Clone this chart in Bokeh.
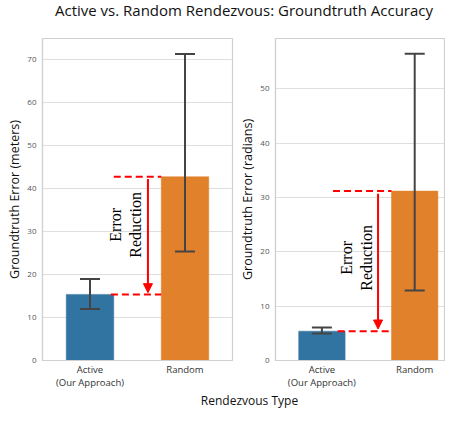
import numpy as np
from bokeh.plotting import figure
from bokeh.layouts import column, row
from bokeh.models import Range1d, FixedTicker, Arrow, NormalHead, ColumnDataSource, Whisker
from bokeh.core.properties import value
from bokeh.embed import file_html
from bokeh.resources import INLINE

# ---------------- data ----------------
title_text = "Active vs. Random Rendezvous: Groundtruth Accuracy"
x_title = "Rendezvous Type"
categories = ["Active\n(Our Approach)", "Random"]
bar_colors = ["#3274a1", "#e1812c"]

meters_mean = [15.4, 42.8]
meters_low = [12.0, 25.4]
meters_high = [19.0, 71.4]
meters_ticks = [0, 10, 20, 30, 40, 50, 60, 70]
meters_label = "Groundtruth Error (meters)"

radians_mean = [5.4, 31.2]
radians_low = [4.95, 12.9]
radians_high = [6.1, 56.5]
radians_ticks = [0, 10, 20, 30, 40, 50]
radians_label = "Groundtruth Error (radians)"

note_text = "Error\nReduction"

SANS = "Open Sans"
SERIF = "Liberation Serif"
GRID = "#dedede"
EDGE = "#d0d0d0"
PX_PER_CAT = 95.0


def panel(width, height, bl, br, y_end, means, lows, highs, ticks, ylabel,
          dash_x0, dash_x0_low, arrow_x, text_x, text_dy):
    xs = [i + 0.5 for i in range(len(categories))]
    x_end = (width - bl - br) / PX_PER_CAT
    p = figure(width=width, height=height, output_backend="svg", toolbar_location=None,
               x_range=Range1d(0, x_end), y_range=Range1d(0, y_end),
               min_border_left=bl, min_border_right=br, min_border_top=18,
               min_border_bottom=30, background_fill_color="white",
               border_fill_color="white")
    p.outline_line_color = EDGE
    p.outline_line_width = 1.2
    src = ColumnDataSource(dict(x=xs, top=means, low=lows, high=highs, color=bar_colors))
    p.vbar(x="x", top="top", bottom=0, width=0.5, fill_color="color", line_color="color",
           line_width=0.5, source=src)
    w = Whisker(base="x", lower="low", upper="high", source=src, dimension="height",
                line_color="#444444", line_width=2, level="overlay")
    for h in (w.upper_head, w.lower_head):
        h.size = 20
        h.line_color = "#444444"
        h.line_width = 2
    p.add_layout(w)

    # annotation: dashed reference lines + arrow + text
    right_edge = xs[1] - 0.25
    p.segment(x0=[dash_x0, dash_x0_low], y0=[means[1], means[0]],
              x1=[right_edge, right_edge], y1=[means[1], means[0]],
              line_color="red", line_width=2, line_dash="7 4")
    p.add_layout(Arrow(end=NormalHead(size=9, fill_color="red", line_color="red"),
                       x_start=arrow_x, y_start=means[1] - 0.5,
                       x_end=arrow_x, y_end=means[0] + 0.4,
                       line_color="red", line_width=2))
    p.text(x=[text_x], y=[(means[0] + means[1]) / 2 + text_dy], text=[note_text],
           angle=np.pi / 2, text_font=value(SERIF), text_font_size="16px",
           text_align="center", text_baseline="middle", text_line_height=1.15,
           text_color="black")

    p.xaxis.ticker = FixedTicker(ticks=xs)
    p.xaxis.major_label_overrides = {x: c for x, c in zip(xs, categories)}
    p.xaxis.major_label_text_font = SANS
    p.xaxis.major_label_text_font_size = "9.5px"
    p.xaxis.major_label_text_line_height = 1.0
    p.xaxis.major_label_text_color = "#333333"
    p.xaxis.major_label_standoff = 2
    p.xaxis.major_tick_out = 0
    p.xaxis.major_tick_in = 0
    p.xaxis.major_tick_line_color = None
    p.xaxis.minor_tick_line_color = None
    p.xaxis.axis_line_color = EDGE
    p.xaxis.axis_line_width = 1.2

    p.yaxis.ticker = FixedTicker(ticks=ticks)
    p.yaxis.major_label_text_font = SANS
    p.yaxis.major_label_text_font_size = "8px"
    p.yaxis.major_label_text_color = "#555555"
    p.yaxis.major_label_standoff = 6
    p.yaxis.major_tick_out = 0
    p.yaxis.major_tick_in = 0
    p.yaxis.major_tick_line_color = None
    p.yaxis.minor_tick_line_color = None
    p.yaxis.axis_line_color = EDGE
    p.yaxis.axis_line_width = 1.2
    p.yaxis.axis_label = ylabel
    p.yaxis.axis_label_text_font = SANS
    p.yaxis.axis_label_text_font_size = "12.5px"
    p.yaxis.axis_label_text_font_style = "normal"
    p.yaxis.axis_label_text_color = "#111111"
    p.yaxis.axis_label_standoff = 1

    p.xgrid.grid_line_color = None
    p.ygrid.grid_line_color = GRID
    p.ygrid.grid_line_width = 1.2
    return p


p1 = panel(236, 371, 42, 4, 75.0, meters_mean, meters_low, meters_high,
           meters_ticks, meters_label, dash_x0=0.75, dash_x0_low=0.72,
           arrow_x=1.11, text_x=0.872, text_dy=2.5)
p2 = panel(209, 371, 35, 1, 59.3, radians_mean, radians_low, radians_high,
           radians_ticks, radians_label, dash_x0=0.62, dash_x0_low=0.67,
           arrow_x=1.105, text_x=0.874, text_dy=0.6)


def text_strip(width, height, txt, cx, cy, size, color):
    f = figure(width=width, height=height, output_backend="svg", toolbar_location=None,
               x_range=Range1d(0, width), y_range=Range1d(0, height),
               min_border=0, min_border_left=0, min_border_right=0,
               min_border_top=0, min_border_bottom=0)
    f.axis.visible = False
    f.grid.visible = False
    f.outline_line_color = None
    f.text(x=[cx], y=[cy], text=[txt], text_font=value(SANS),
           text_font_size=size, text_align="center", text_baseline="middle",
           text_color=color)
    return f


top = text_strip(445, 20, title_text, 243.5, 10.5, "15px", "#111111")
bottom = text_strip(445, 18, x_title, 249, 9.5, "12px", "#111111")

layout = column(top, row(p1, p2), bottom)
open("out.html", "w").write(file_html(layout, INLINE))
